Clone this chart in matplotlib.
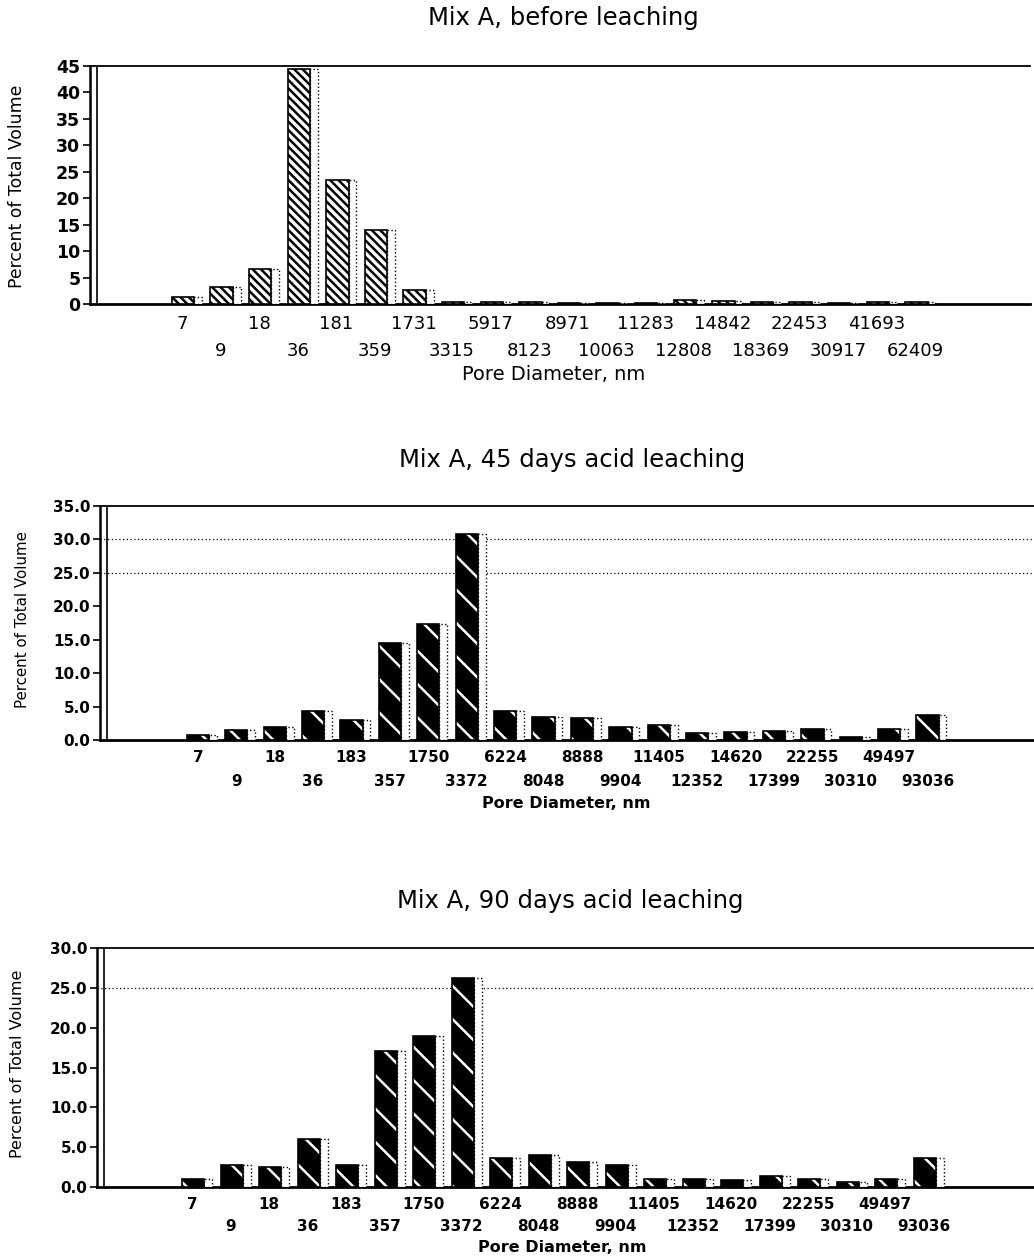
import numpy as np
import matplotlib
matplotlib.use("Agg")
import matplotlib.pyplot as plt

plt.rcParams['font.family'] = ['DejaVu Sans']
plt.rcParams['hatch.linewidth'] = 1.8

# ---------------- data ----------------
titles = ["Mix A, before leaching",
          "Mix A, 45 days acid leaching",
          "Mix A, 90 days acid leaching"]

labels_before = ["7", "9", "18", "36", "181", "359", "1731", "3315", "5917", "8123",
                 "8971", "10063", "11283", "12808", "14842", "18369", "22453",
                 "30917", "41693", "62409"]
values_before = [1.3, 3.2, 6.6, 44.5, 23.5, 14.0, 2.6, 0.4, 0.3, 0.3,
                 0.2, 0.1, 0.1, 0.8, 0.5, 0.4, 0.3, 0.1, 0.4, 0.4]

labels_acid = ["7", "9", "18", "36", "183", "357", "1750", "3372", "6224", "8048",
               "8888", "9904", "11405", "12352", "14620", "17399", "22255",
               "30310", "49497", "93036"]
values_45 = [0.8, 1.5, 2.0, 4.4, 3.0, 14.5, 17.3, 30.8, 4.4, 3.5,
             3.3, 2.0, 2.2, 1.0, 1.25, 1.35, 1.6, 0.5, 1.7, 3.7]
values_90 = [1.05, 2.8, 2.5, 6.0, 2.8, 17.1, 18.9, 26.2, 3.7, 4.0,
             3.2, 2.7, 1.0, 1.0, 0.9, 1.4, 1.0, 0.6, 1.0, 3.6]

yticks_before = [0, 5, 10, 15, 20, 25, 30, 35, 40, 45]
yticks_45 = [0, 5, 10, 15, 20, 25, 30, 35]
yticks_90 = [0, 5, 10, 15, 20, 25, 30]

W, H = 1034, 1257
fig = plt.figure(figsize=(W / 100, H / 100), dpi=100)


def px_axes(left, top, right, bottom):
    return fig.add_axes([left / W, 1 - bottom / H, (right - left) / W, (bottom - top) / H])


def draw_panel(ax, labels, values, yticks, ylim, xlim, off, style, ytick_fmt,
               grid_vals, xt_font, xt_weight, yt_font, pads):
    n = len(values)
    x = np.arange(n)
    face_w, side_w = 0.58, 0.2
    left = x + off - (face_w + side_w) / 2
    if style == "dense":
        ax.bar(left, values, width=face_w, align='edge', facecolor='white',
               edgecolor='black', hatch='\\\\\\\\', linewidth=0, zorder=3)
    else:
        ax.bar(left, values, width=face_w, align='edge', facecolor='black',
               edgecolor='white', hatch='\\', linewidth=0, zorder=3)
    ax.bar(left, values, width=face_w, align='edge', fill=False,
           edgecolor='black', linewidth=1.2, zorder=4)
    ax.bar(left + face_w, values, width=side_w, align='edge', facecolor='white',
           edgecolor='black', linewidth=1.0, linestyle=':', zorder=3)

    ax.set_xlim(*xlim)
    ax.set_ylim(*ylim)
    ax.set_yticks(yticks)
    ax.set_yticklabels([ytick_fmt(v) for v in yticks], fontsize=yt_font, fontweight='bold')
    ax.tick_params(axis='y', length=5, width=1.2, pad=2, direction='out')

    even = x[::2]
    odd = x[1::2]
    ax.set_xticks(even)
    ax.set_xticklabels([labels[i] for i in even], fontsize=xt_font, fontweight=xt_weight)
    ax.set_xticks(odd, minor=True)
    ax.set_xticklabels([labels[i] for i in odd], minor=True, fontsize=xt_font,
                       fontweight=xt_weight)
    ax.tick_params(axis='x', which='major', length=0, pad=pads[0])
    ax.tick_params(axis='x', which='minor', length=0, pad=pads[1])

    for g in grid_vals:
        ax.axhline(g, color='black', linestyle=(0, (1, 2)), linewidth=0.9, zorder=1)

    ax.spines['right'].set_visible(False)
    ax.spines['top'].set_linewidth(1.3)
    ax.spines['left'].set_linewidth(1.8)
    ax.spines['bottom'].set_linewidth(2.0)
    # inner wall line (3-D look)
    ax.axvline(xlim[0] + 0.18, color='black', linewidth=1.2, zorder=2)


# Panel 1
ax1 = px_axes(90, 66, 1030, 304)
draw_panel(ax1, labels_before, values_before, yticks_before, (0, 45), (-2.38, 21.97),
           0.13, "dense", lambda v: f"{v:d}", [], 13, 'normal', 12.5, (8, 27))

# Panel 2
ax2 = px_axes(100, 506, 1034, 740)
draw_panel(ax2, labels_acid, values_45, yticks_45, (0, 35), (-2.55, 21.77),
           0.1, "sparse", lambda v: f"{v:.1f}", [25, 30], 11, 'bold', 11, (7, 24.5))

# Panel 3
ax3 = px_axes(97, 948, 1034, 1187)
draw_panel(ax3, labels_acid, values_90, yticks_90, (0, 30), (-2.47, 21.87),
           0.13, "sparse", lambda v: f"{v:.1f}", [25], 11, 'bold', 11, (7, 23))


def ftext(xp, yp, s, **kw):
    fig.text(xp / W, 1 - yp / H, s, ha='center', va='center', **kw)


# titles
ftext(563, 18, titles[0], fontsize=17.5)
ftext(572, 460, titles[1], fontsize=17.5)
ftext(570, 901, titles[2], fontsize=17.5)

# x labels
ftext(554, 375, "Pore Diameter, nm", fontsize=14)
ftext(566, 803, "Pore Diameter, nm", fontsize=11.5, fontweight='bold')
ftext(562, 1248, "Pore Diameter, nm", fontsize=11.5, fontweight='bold')

# y labels
ftext(17, 186, "Percent of Total Volume", fontsize=12.4, rotation=90)
ftext(23, 620, "Percent of Total Volume", fontsize=10.8, rotation=90)
ftext(18, 1064, "Percent of Total Volume", fontsize=11.5, rotation=90)

fig.savefig("out.png", dpi=100)
